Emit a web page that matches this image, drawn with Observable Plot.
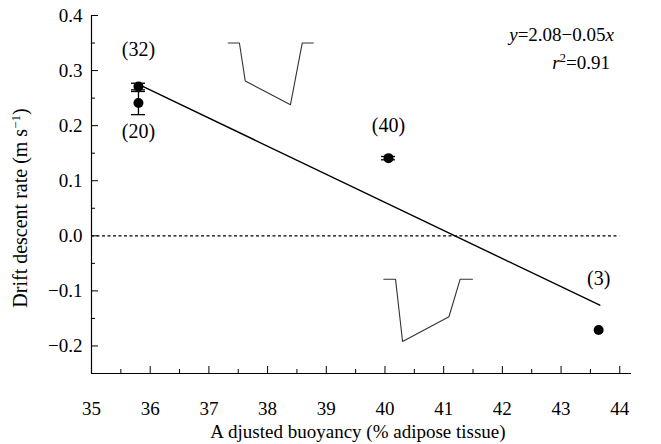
<!DOCTYPE html>
<html><head><meta charset="utf-8">
<script src="https://cdn.jsdelivr.net/npm/d3@7"></script>
<script src="https://cdn.jsdelivr.net/npm/@observablehq/plot@0.6"></script>
<style>body{margin:0;background:#fff} svg text{font-family:"Liberation Serif","Times New Roman",serif !important;}</style>
</head><body><div id="chart"></div>
<script>
// ---- data ----
const groupLabels = ["(32)", "(20)", "(40)", "(3)"];
const buoyancy = [35.8, 35.8, 40.06, 43.64];
const descentRate = [0.271, 0.241, 0.141, -0.171];
const errorHalf = [0.006, 0.021, 0.003, 0];
const regressionX = [35.82, 43.66];
const regressionY = [0.274, -0.126];
const zeroLineX = [35, 44];
const profileTopX = [37.33, 37.52, 37.62, 38.39, 38.59, 38.78];
const profileTopY = [0.35, 0.35, 0.281, 0.238, 0.35, 0.35];
const profileBottomX = [39.98, 40.18, 40.30, 41.09, 41.28, 41.49];
const profileBottomY = [-0.079, -0.079, -0.192, -0.147, -0.079, -0.079];
const xMajor = [35, 36, 37, 38, 39, 40, 41, 42, 43, 44];
const xMinor = [35.5, 36.5, 37.5, 38.5, 39.5, 40.5, 41.5, 42.5, 43.5];
const yMajor = [-0.2, -0.1, 0.0, 0.1, 0.2, 0.3, 0.4];
const yMinor = [-0.25, -0.15, -0.05, 0.05, 0.15, 0.25, 0.35];
const equationText = "2.08\u22120.05";
const r2Text = "=0.91";
const xTitle = "Adjusted buoyancy (% adipose tissue)";
const yTitle = "Drift descent rate (m s";

const pts = groupLabels.map((g, i) => ({g, x: buoyancy[i], y: descentRate[i], lo: descentRate[i] - errorHalf[i], hi: descentRate[i] + errorHalf[i], e: errorHalf[i]}));
const errPts = pts.filter(d => d.e > 0);
const reg = regressionX.map((x, i) => ({x, y: regressionY[i]}));
const pTop = profileTopX.map((x, i) => ({x, y: profileTopY[i]}));
const pBot = profileBottomX.map((x, i) => ({x, y: profileBottomY[i]}));

const W = 661, H = 444, mL = 91, mR = 30, mT = 15, mB = 71;
const fw = W - mL - mR, fh = H - mT - mB;
const labelDy = {"(32)": -37, "(20)": 29, "(40)": -33, "(3)": -51};
const FONT = "Liberation Serif";

const plot = Plot.plot({
  width: W, height: H,
  marginLeft: mL, marginRight: mR, marginTop: mT, marginBottom: mB,
  style: {fontFamily: FONT, fontSize: "18px", background: "#fff", color: "#000"},
  x: {domain: [35, 44.2]},
  y: {domain: [-0.25, 0.4]},
  marks: [
    Plot.axisX({ticks: xMajor, tickSize: 0, tickPadding: 28, label: null, tickFormat: d => String(d), fontSize: 19}),
    Plot.axisY({ticks: yMajor, tickSize: 0, tickPadding: 9, label: null, tickFormat: d => d.toFixed(1).replace("-", "\u2212"), fontSize: 19}),
    Plot.tickY(yMajor, {y: d => d, insetRight: fw - 7, stroke: "#000"}),
    Plot.tickY(yMinor, {y: d => d, insetRight: fw - 4, stroke: "#000"}),
    Plot.tickX(xMajor, {x: d => d, insetTop: fh - 7, stroke: "#000"}),
    Plot.tickX(xMinor, {x: d => d, insetTop: fh - 4, stroke: "#000"}),
    Plot.ruleX([35], {stroke: "#000", strokeWidth: 1.2}),
    Plot.ruleY([-0.25], {stroke: "#000", strokeWidth: 1.2}),
    Plot.ruleY([0], {x1: zeroLineX[0], x2: zeroLineX[1], stroke: "#000", strokeDasharray: "3,2.5", strokeWidth: 1.2}),
    Plot.line(reg, {x: "x", y: "y", stroke: "#000", strokeWidth: 1.4}),
    Plot.line(pTop, {x: "x", y: "y", stroke: "#333", strokeWidth: 1.1}),
    Plot.line(pBot, {x: "x", y: "y", stroke: "#333", strokeWidth: 1.1}),
    Plot.ruleX(errPts, {x: "x", y1: "lo", y2: "hi", stroke: "#000", strokeWidth: 1.3}),
    Plot.ruleY(errPts, {y: "lo", x1: "x", x2: "x", insetLeft: -7, insetRight: -7, stroke: "#000", strokeWidth: 1.3}),
    Plot.ruleY(errPts, {y: "hi", x1: "x", x2: "x", insetLeft: -7, insetRight: -7, stroke: "#000", strokeWidth: 1.3}),
    Plot.dot(pts, {x: "x", y: "y", r: 5, fill: "#000", stroke: "none"}),
    ...groupLabels.map(g => Plot.text(pts.filter(d => d.g === g), {x: "x", y: "y", text: "g", dy: labelDy[g], fontSize: 20, fill: "#000"}))
  ]
});

const svg = d3.select(plot);
// equation
const eq = svg.append("text").attr("x", 614).attr("y", 41).attr("text-anchor", "end").attr("font-size", 19).attr("fill", "#000");
eq.append("tspan").attr("font-style", "italic").text("y");
eq.append("tspan").text("=" + equationText);
eq.append("tspan").attr("font-style", "italic").text("x");
const r2 = svg.append("text").attr("x", 610).attr("y", 69).attr("text-anchor", "end").attr("font-size", 19).attr("fill", "#000");
r2.append("tspan").attr("font-style", "italic").text("r");
r2.append("tspan").attr("font-size", 13).attr("dy", -7).text("2");
r2.append("tspan").attr("dy", 7).text(r2Text);
// x title
const xt = svg.append("text").attr("x", 358).attr("y", 438).attr("text-anchor", "middle").attr("font-size", 19).attr("fill", "#000");
xt.append("tspan").text(xTitle.slice(0, 1));
xt.append("tspan").attr("dx", 4).text(xTitle.slice(1));
// y title
const yt = svg.append("text").attr("transform", "translate(27,208) rotate(-90)").attr("text-anchor", "middle").attr("font-size", 20).attr("fill", "#000");
yt.append("tspan").text(yTitle);
yt.append("tspan").attr("font-size", 13).attr("dy", -7).text("\u22121");
yt.append("tspan").attr("dy", 7).text(")");

document.getElementById("chart").appendChild(plot);
</script>
</body></html>
